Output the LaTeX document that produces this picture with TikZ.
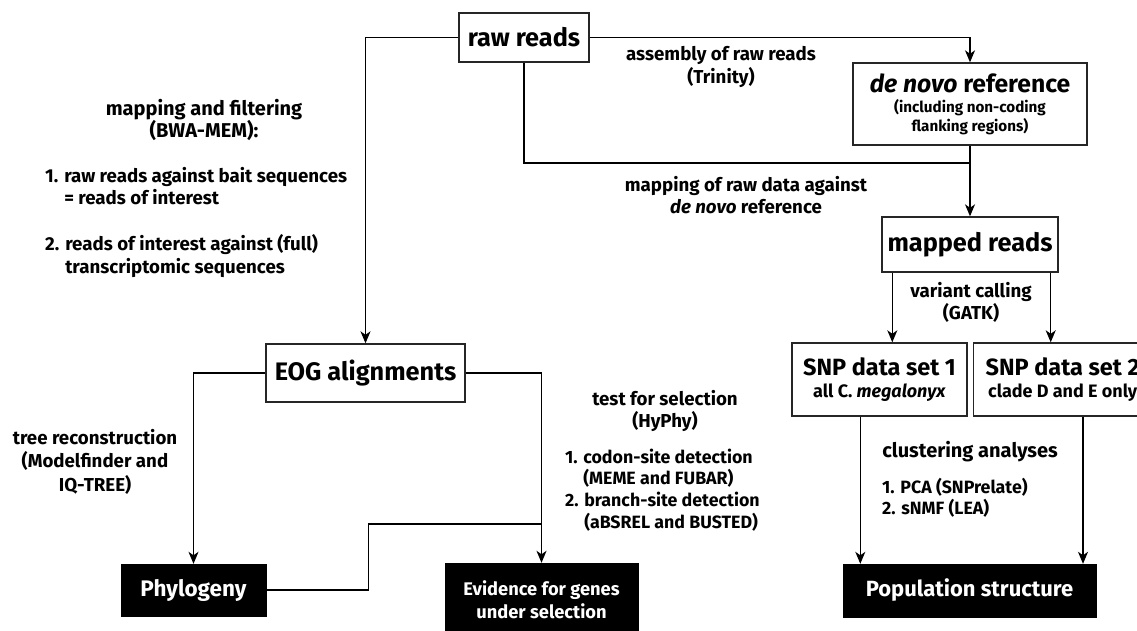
\documentclass[tikz,border=0pt]{standalone}
\usepackage{fontspec}
\setmainfont{Fira Sans}
\usetikzlibrary{arrows.meta}
\begin{document}
\begin{tikzpicture}[x=1pt,y=-1pt,
  box/.style={draw=black!85, line width=1.4pt, fill=white, inner sep=0pt, align=center},
  blk/.style={draw=black, fill=black, text=white, inner sep=0pt, align=center},
  con/.style={line width=1.2pt, draw=black},
  arr/.style={con, -{Stealth[length=12pt,width=10pt,inset=3.5pt]}},
  lbl/.style={inner sep=0pt, align=center, font=\bfseries\fontsize{18.7}{22.5}\selectfont},
  bigf/.style={font=\bfseries\fontsize{25.3}{28}\selectfont}
]
\clip (0,0) rectangle (1137,630);
\fill[white] (0,0) rectangle (1137,630);

% boxes
\node[box, bigf, minimum width=130, minimum height=49] (raw) at (524,37.5) {raw reads};
\node[box, minimum width=234, minimum height=82, font=\bfseries\fontsize{15.2}{19}\selectfont] (ref) at (970,104)
  {{\fontsize{24.7}{26}\selectfont\itshape de novo\upshape{} reference}\\[1pt](including non-coding\\flanking regions)};
\node[box, bigf, minimum width=176, minimum height=55] (mapped) at (970,244.5) {mapped reads};
\node[box, minimum width=175, minimum height=73, font=\bfseries\fontsize{18}{22}\selectfont] (snp1) at (879.5,379.5)
  {{\fontsize{23.5}{27}\selectfont SNP data set 1}\\all C. \textit{megalonyx}};
\node[box, minimum width=178, minimum height=73, anchor=west, font=\bfseries\fontsize{18}{22}\selectfont] (snp2) at (973,379.5)
  {{\fontsize{23.5}{27}\selectfont SNP data set 2}\\clade D and E only};
\node[box, bigf, minimum width=199, minimum height=58] (eog) at (365.5,373) {EOG alignments};
\node[blk, minimum width=145, minimum height=52, font=\bfseries\fontsize{22.5}{25}\selectfont] (phy) at (193.5,590) {Phylogeny};
\node[blk, minimum width=193, minimum height=74, font=\bfseries\fontsize{18.3}{23}\selectfont] (evid) at (541.5,600) {Evidence for genes\\under selection};
\node[blk, minimum width=253, minimum height=53, font=\bfseries\fontsize{22}{25}\selectfont] (pop) at (969.5,590.5) {Population structure};

% labels
\node[lbl, font=\bfseries\fontsize{20}{21.5}\selectfont] (lmap) at (204,120) {mapping and filtering\\(BWA-MEM):};
\node[lbl, align=left, anchor=west] (llist1) at (45,222)
  {1. raw reads against bait sequences\\\hphantom{1. }= reads of interest\\[23.5pt]2. reads of interest against (full)\\\hphantom{2. }transcriptomic sequences};
\node[lbl] (lasm) at (721,67) {assembly of raw reads\\(Trinity)};
\node[lbl] (lmraw) at (746,195) {mapping of raw data against\\\textit{de novo} reference};
\node[lbl, font=\bfseries\fontsize{18.7}{21.5}\selectfont] (lvar) at (971,302.5) {variant calling\\(GATK)};
\node[lbl, font=\bfseries\fontsize{18.7}{23.5}\selectfont] (ltree) at (95,461.5) {tree reconstruction\\(Modelfinder and\\IQ-TREE)};
\node[lbl] (ltest) at (665,411) {test for selection\\(HyPhy)};
\node[lbl, align=left, anchor=west, font=\bfseries\fontsize{17.8}{21.7}\selectfont] (llist2) at (565,490)
  {1. codon-site detection\\\hphantom{1. }(MEME and FUBAR)\\2. branch-site detection\\\hphantom{2. }(aBSREL and BUSTED)};
\node[lbl, font=\bfseries\fontsize{20}{22}\selectfont] (lclu) at (970,452) {clustering analyses};
\node[lbl, align=left, anchor=west, font=\bfseries\fontsize{17.8}{21}\selectfont] (llist3) at (882,498) {1. PCA (SNPrelate)\\2. sNMF (LEA)};

% connectors
\coordinate (j1) at (970,163);
\coordinate (j2) at (541.5,524);
\draw[arr] (raw.west) -| (eog.north);
\draw[arr] (raw.east) -| (ref.north);
\draw[con] (raw.south) |- (j1);
\draw[arr] (ref.south) -- (mapped.north);
\coordinate (m1) at ([xshift=11pt]mapped.south west);
\coordinate (m2) at ([xshift=-8pt]mapped.south east);
\draw[arr] (m1) -- (m1 |- snp1.north);
\draw[arr] (m2) -- (m2 |- snp2.north);
\coordinate (s1) at ([xshift=69pt]snp1.south west);
\coordinate (s2) at ([xshift=110pt]snp2.south west);
\draw[arr] (s1) -- (s1 |- pop.north);
\draw[arr] (s2) -- (s2 |- pop.north);
\draw[arr] (eog.west) -| (phy.north);
\draw[arr] (eog.east) -| (evid.north);
\draw[con] (phy.east) -- ++(102,0) |- (j2);
\end{tikzpicture}
\end{document}
